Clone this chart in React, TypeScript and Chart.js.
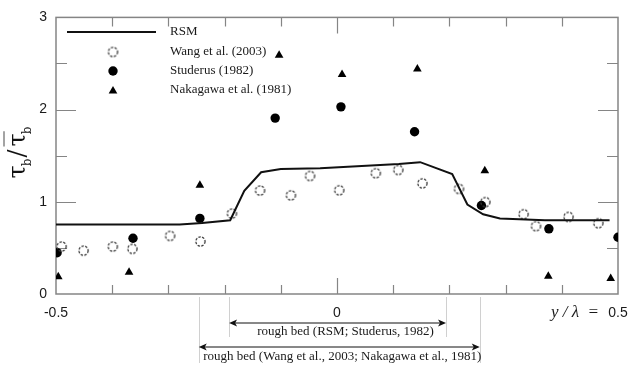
import React, { useEffect, useRef } from 'react';
import { Chart, registerables } from 'chart.js';

Chart.register(...registerables);

// ---- data ----
const rsmX = [-0.5, -0.28, -0.24, -0.19, -0.165, -0.135, -0.10, -0.03, 0.11, 0.148, 0.205, 0.232, 0.26, 0.29, 0.37, 0.485];
const rsmY = [0.755, 0.755, 0.77, 0.80, 1.12, 1.32, 1.355, 1.365, 1.41, 1.43, 1.30, 0.97, 0.865, 0.82, 0.80, 0.80];

const wangX = [-0.49, -0.451, -0.399, -0.364, -0.297, -0.243, -0.187, -0.137, -0.082, -0.048, 0.004, 0.069, 0.109, 0.152, 0.217, 0.264, 0.332, 0.354, 0.412, 0.465];
const wangY = [0.515, 0.47, 0.514, 0.49, 0.63, 0.57, 0.872, 1.122, 1.07, 1.28, 1.125, 1.31, 1.345, 1.20, 1.14, 0.997, 0.865, 0.736, 0.836, 0.768];

const studX = [-0.498, -0.363, -0.244, -0.110, 0.007, 0.138, 0.257, 0.377, 0.50];
const studY = [0.448, 0.605, 0.82, 1.908, 2.03, 1.76, 0.96, 0.707, 0.615];

const nakaX = [-0.496, -0.37, -0.244, -0.103, 0.009, 0.143, 0.263, 0.376, 0.487];
const nakaY = [0.186, 0.236, 1.18, 2.59, 2.38, 2.44, 1.336, 0.193, 0.168];

const legendLabels = ['RSM', 'Wang et al. (2003)', 'Studerus (1982)', 'Nakagawa et al. (1981)'];

const xLabelTicks = [-0.5, 0, 0.5];
const xTickMarks = [-0.4, -0.3, -0.2, -0.1, 0, 0.1, 0.2, 0.3, 0.4];
const xMajorTick = 0;
const yTickMarks = [0.5, 1, 1.5, 2, 2.5];
const yMajorTicks = [1, 2];

const roughRSM = [-0.192, 0.194];
const roughWang = [-0.246, 0.254];
const roughLabels = ['rough bed (RSM; Studerus, 1982)', 'rough bed (Wang et al., 2003; Nakagawa et al., 1981)'];

const AXIS_GRAY = '#858585';
const TEXT = '#1a1a1a';

function makeDashedCircle(r: number) {
  const c = document.createElement('canvas');
  const s = Math.ceil(r * 2 + 3);
  c.width = s;
  c.height = s;
  const ctx = c.getContext('2d')!;
  ctx.strokeStyle = '#3a3a3a';
  ctx.lineWidth = 1.3;
  ctx.setLineDash([2.4, 1.4]);
  ctx.beginPath();
  ctx.arc(s / 2, s / 2, r, 0, Math.PI * 2);
  ctx.stroke();
  return c;
}

function drawTri(ctx: CanvasRenderingContext2D, x: number, y: number, r: number) {
  ctx.beginPath();
  ctx.moveTo(x, y - r);
  ctx.lineTo(x + r * 0.866, y + r / 2);
  ctx.lineTo(x - r * 0.866, y + r / 2);
  ctx.closePath();
  ctx.fill();
}

function arrow(ctx: CanvasRenderingContext2D, x1: number, x2: number, y: number) {
  ctx.strokeStyle = '#111';
  ctx.fillStyle = '#111';
  ctx.lineWidth = 1;
  ctx.beginPath();
  ctx.moveTo(x1 + 4, y);
  ctx.lineTo(x2 - 4, y);
  ctx.stroke();
  ctx.beginPath();
  ctx.moveTo(x1, y);
  ctx.lineTo(x1 + 8, y - 3.5);
  ctx.lineTo(x1 + 6, y);
  ctx.lineTo(x1 + 8, y + 3.5);
  ctx.closePath();
  ctx.fill();
  ctx.beginPath();
  ctx.moveTo(x2, y);
  ctx.lineTo(x2 - 8, y - 3.5);
  ctx.lineTo(x2 - 6, y);
  ctx.lineTo(x2 - 8, y + 3.5);
  ctx.closePath();
  ctx.fill();
}

const decoPlugin = {
  id: 'deco',
  beforeDatasetsDraw(chart: any) {
    const { ctx, chartArea: a, scales } = chart;
    const xs = scales.x, ys = scales.y;
    ctx.save();
    ctx.strokeStyle = AXIS_GRAY;
    ctx.lineWidth = 1.5;
    ctx.strokeRect(a.left, a.top, a.right - a.left, a.bottom - a.top);
    ctx.lineWidth = 1.2;
    ctx.beginPath();
    for (const t of xTickMarks) {
      const px = Math.round(xs.getPixelForValue(t)) + 0.5;
      const len = t === xMajorTick ? 16 : 9;
      ctx.moveTo(px, a.bottom);
      ctx.lineTo(px, a.bottom - len);
      ctx.moveTo(px, a.top);
      ctx.lineTo(px, a.top + len);
    }
    for (const t of yTickMarks) {
      const py = Math.round(ys.getPixelForValue(t)) + 0.5;
      const len = yMajorTicks.includes(t) ? 20 : 11;
      ctx.moveTo(a.left, py);
      ctx.lineTo(a.left + len, py);
      ctx.moveTo(a.right, py);
      ctx.lineTo(a.right - len, py);
    }
    ctx.stroke();
    ctx.restore();
  },
  afterDraw(chart: any) {
    const { ctx, chartArea: a, scales } = chart;
    const xs = scales.x;
    ctx.save();
    // x tick labels
    ctx.fillStyle = TEXT;
    ctx.font = '14px "Liberation Sans", Arial, sans-serif';
    ctx.textAlign = 'center';
    ctx.textBaseline = 'middle';
    for (const t of xLabelTicks) {
      const px = xs.getPixelForValue(t);
      const label = t === 0 ? '0' : t.toFixed(1);
      ctx.fillText(label, px, 313);
    }
    // y / lambda =
    ctx.font = 'italic 17px "Liberation Serif", serif';
    ctx.textAlign = 'right';
    ctx.fillText('y / λ  =', xs.getPixelForValue(0.5) - 19, 313);

    // rough bed annotations
    const r1a = xs.getPixelForValue(roughRSM[0]), r1b = xs.getPixelForValue(roughRSM[1]);
    const r2a = xs.getPixelForValue(roughWang[0]), r2b = xs.getPixelForValue(roughWang[1]);
    ctx.strokeStyle = '#d0d0d0';
    ctx.lineWidth = 1;
    ctx.beginPath();
    ctx.moveTo(Math.round(r1a) + 0.5, a.bottom + 3);
    ctx.lineTo(Math.round(r1a) + 0.5, 337);
    ctx.moveTo(Math.round(r1b) + 0.5, a.bottom + 3);
    ctx.lineTo(Math.round(r1b) + 0.5, 337);
    ctx.moveTo(Math.round(r2a) + 0.5, a.bottom + 3);
    ctx.lineTo(Math.round(r2a) + 0.5, 363);
    ctx.moveTo(Math.round(r2b) + 0.5, a.bottom + 3);
    ctx.lineTo(Math.round(r2b) + 0.5, 363);
    ctx.stroke();
    arrow(ctx, r1a, r1b, 323);
    arrow(ctx, r2a, r2b, 347);
    ctx.fillStyle = TEXT;
    ctx.font = '13px "Liberation Serif", serif';
    ctx.textAlign = 'center';
    ctx.fillText(roughLabels[0], (r1a + r1b) / 2 + 8, 332);
    ctx.fillText(roughLabels[1], (r2a + r2b) / 2 + 3, 357);

    // legend
    const lx = 113, tx = 170;
    const rows = [32, 52, 71, 90];
    ctx.strokeStyle = '#111';
    ctx.lineWidth = 2;
    ctx.beginPath();
    ctx.moveTo(67, rows[0]);
    ctx.lineTo(156, rows[0]);
    ctx.stroke();
    const dc = makeDashedCircle(4.6);
    ctx.drawImage(dc, lx - dc.width / 2, rows[1] - dc.height / 2);
    ctx.fillStyle = '#000';
    ctx.beginPath();
    ctx.arc(lx, rows[2], 4.7, 0, Math.PI * 2);
    ctx.fill();
    drawTri(ctx, lx, rows[3] + 1, 5);
    ctx.fillStyle = TEXT;
    ctx.font = '13px "Liberation Serif", serif';
    ctx.textAlign = 'left';
    ctx.textBaseline = 'middle';
    legendLabels.forEach((l, i) => ctx.fillText(l, tx, rows[i]));

    // y axis title: tau_b / overline(tau)_b
    ctx.translate(19, 152);
    ctx.rotate(-Math.PI / 2);
    ctx.textBaseline = 'alphabetic';
    ctx.textAlign = 'left';
    const big = '24px "DejaVu Serif", serif';
    const small = '12px "DejaVu Serif", serif';
    ctx.font = big;
    const wT = ctx.measureText('τ').width;
    const wSlash = ctx.measureText('/').width;
    ctx.font = small;
    const wB = ctx.measureText('b').width;
    const total = wT + wB + wSlash + 3 + wT + wB;
    let x = -total / 2;
    ctx.fillStyle = '#111';
    ctx.font = big;
    ctx.fillText('τ', x, 6);
    x += wT;
    ctx.font = small;
    ctx.fillText('b', x - 1, 12);
    x += wB;
    ctx.font = big;
    ctx.fillText('/', x, 6);
    x += wSlash + 3;
    ctx.fillText('τ', x, 6);
    ctx.strokeStyle = '#666';
    ctx.lineWidth = 1.2;
    ctx.beginPath();
    ctx.moveTo(x, -15);
    ctx.lineTo(x + wT + 2, -15);
    ctx.stroke();
    x += wT;
    ctx.font = small;
    ctx.fillText('b', x - 1, 12);
    ctx.restore();
  },
};

export default function App() {
  const ref = useRef<HTMLCanvasElement | null>(null);
  useEffect(() => {
    if (!ref.current) return;
    const dashed = makeDashedCircle(4.6);
    const chart = new Chart(ref.current, {
      type: 'scatter',
      data: {
        datasets: [
          {
            label: legendLabels[0],
            data: rsmX.map((x, i) => ({ x, y: rsmY[i] })),
            showLine: true,
            borderColor: '#111',
            borderWidth: 2,
            pointRadius: 0,
            tension: 0,
            fill: false,
          },
          {
            label: legendLabels[1],
            data: wangX.map((x, i) => ({ x, y: wangY[i] })),
            pointStyle: dashed as any,
            pointRadius: 5,
          },
          {
            label: legendLabels[2],
            data: studX.map((x, i) => ({ x, y: studY[i] })),
            pointStyle: 'circle',
            pointRadius: 4.7,
            backgroundColor: '#000',
            borderColor: '#000',
            borderWidth: 0,
          },
          {
            label: legendLabels[3],
            data: nakaX.map((x, i) => ({ x, y: nakaY[i] })),
            pointStyle: 'triangle',
            pointRadius: 5,
            backgroundColor: '#000',
            borderColor: '#000',
            borderWidth: 0,
          },
        ],
      },
      options: {
        animation: false,
        responsive: false,
        maintainAspectRatio: false,
        layout: { padding: { top: 14, right: 11, left: 0, bottom: 0 } },
        plugins: { legend: { display: false }, tooltip: { enabled: false } },
        scales: {
          x: {
            type: 'linear',
            min: -0.5,
            max: 0.5,
            grid: { display: false, drawTicks: false },
            border: { display: false },
            ticks: { display: false },
            afterFit: (s: any) => { s.height = 76; },
          },
          y: {
            type: 'linear',
            min: 0,
            max: 3,
            grid: { display: false, drawTicks: false },
            border: { display: false },
            ticks: {
              stepSize: 0.5,
              padding: 9,
              color: TEXT,
              font: { family: '"Liberation Sans", Arial, sans-serif', size: 14 },
              callback: (v: any) => (Number.isInteger(v) ? String(v) : ''),
            },
            afterFit: (s: any) => { s.width = 56; },
          },
        },
      },
      plugins: [decoPlugin],
    });
    return () => chart.destroy();
  }, []);
  return (
    <div style={{ position: 'fixed', left: 0, top: 0, width: 629, height: 370, background: '#fff' }}>
      <canvas ref={ref} width={629} height={370} style={{ width: 629, height: 370, display: 'block' }} />
    </div>
  );
}
